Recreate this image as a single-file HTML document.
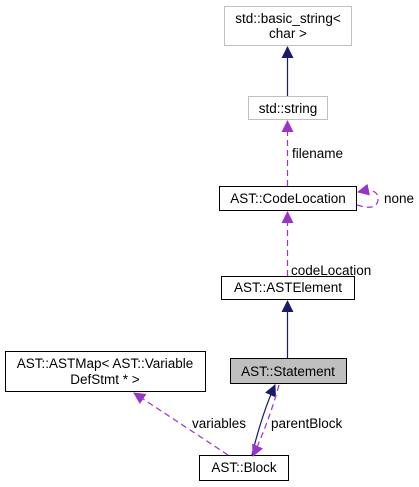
<!DOCTYPE html>
<html><head><style>body{margin:0;background:#fff}svg{display:block}text{font-family:"Liberation Sans",sans-serif;font-size:13.5px;fill:#000}</style></head><body>
<svg width="419" height="487" viewBox="0 0 419 487">
<defs>
<marker id="n" markerWidth="12" markerHeight="12" refX="11" refY="6" orient="auto" markerUnits="userSpaceOnUse"><path d="M0,0 L12,6 L0,12 z" fill="#191970"/></marker>
<marker id="p" markerWidth="12" markerHeight="12" refX="11" refY="6" orient="auto" markerUnits="userSpaceOnUse"><path d="M0,0 L12,6 L0,12 z" fill="#9a32cd"/></marker>
</defs>
<g fill="#fff" stroke-width="1">
<rect x="224.5" y="6.5" width="127" height="39" stroke="#bfbfbf"/>
<rect x="248.5" y="96.5" width="79" height="23" stroke="#bfbfbf"/>
<rect x="219.5" y="186.5" width="137" height="24" stroke="#000"/>
<rect x="221.5" y="276.5" width="133" height="23" stroke="#000"/>
<rect x="230.5" y="358.5" width="116" height="25" fill="#bfbfbf" stroke="#000"/>
<rect x="5.5" y="351.5" width="200" height="40" stroke="#000"/>
<rect x="199.5" y="455.5" width="89" height="25" stroke="#000"/>
</g>
<g fill="none" stroke-width="1.2">
<line x1="287.5" y1="96" x2="287.5" y2="47" stroke="#191970" marker-end="url(#n)"/>
<line x1="287.5" y1="358" x2="287.5" y2="301" stroke="#191970" marker-end="url(#n)"/>
<line x1="287.5" y1="186" x2="287.5" y2="121" stroke="#9a32cd" stroke-dasharray="6,4" marker-end="url(#p)"/>
<line x1="287.5" y1="276" x2="287.5" y2="212" stroke="#9a32cd" stroke-dasharray="6,4" marker-end="url(#p)"/>
<path d="M357,205 C372,210 378,206 378,199 C378,191 372,189 358,192" stroke="#9a32cd" stroke-dasharray="6,4" marker-end="url(#p)"/>
<path d="M252,455 C258,430 266,405 275,385" stroke="#191970" marker-end="url(#n)"/>
<path d="M279,385 C272,410 264,432 253,456" stroke="#9a32cd" stroke-dasharray="6,4" marker-end="url(#p)"/>
<line x1="228" y1="455" x2="134" y2="393" stroke="#9a32cd" stroke-dasharray="6,4" marker-end="url(#p)"/>
</g>
<g text-anchor="middle">
<text x="288" y="23">std::basic_string&lt;</text>
<text x="288" y="38">char &gt;</text>
<text x="288" y="113">std::string</text>
<text x="288" y="203">AST::CodeLocation</text>
<text x="288" y="292">AST::ASTElement</text>
<text x="288" y="376">AST::Statement</text>
<text x="105" y="368">AST::ASTMap&lt; AST::Variable</text>
<text x="105" y="384">DefStmt * &gt;</text>
<text x="244" y="472">AST::Block</text>
</g>
<text x="292" y="158">filename</text>
<text x="384" y="203">none</text>
<text x="291" y="275">codeLocation</text>
<text x="192" y="428">variables</text>
<text x="271" y="428">parentBlock</text>
</svg>
</body></html>
